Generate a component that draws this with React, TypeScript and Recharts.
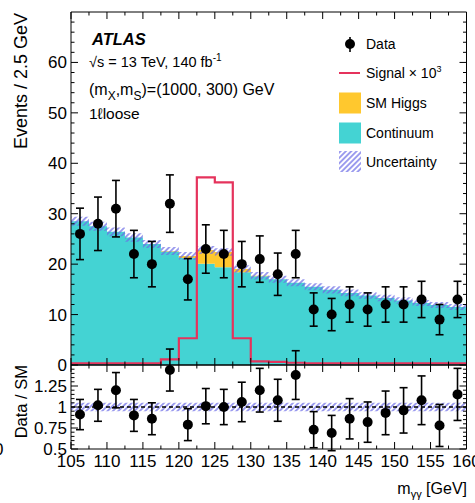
import React from "react";
import { ComposedChart, Area, Line, Scatter, ErrorBar, XAxis, YAxis, ReferenceLine } from "recharts";

const FONT = "'Liberation Sans', Arial, Helvetica, sans-serif";
const CYAN = "#44d3d3";
const YELLOW = "#ffc82e";
const RED = "#e5335c";
const HATCH = "#6c6ce6";

// 2.5 GeV bins from 105 to 160
const binEdges = [105, 107.5, 110, 112.5, 115, 117.5, 120, 122.5, 125, 127.5, 130, 132.5, 135, 137.5, 140, 142.5, 145, 147.5, 150, 152.5, 155, 157.5, 160];
const binCenters = [106.25, 108.75, 111.25, 113.75, 116.25, 118.75, 121.25, 123.75, 126.25, 128.75, 131.25, 133.75, 136.25, 138.75, 141.25, 143.75, 146.25, 148.75, 151.25, 153.75, 156.25, 158.75];

const dataCounts = [26, 28, 31, 22, 20, 32, 17, 23, 22, 20, 21, 18, 22, 11, 10, 12, 11, 12, 12, 13, 9, 13];
const dataErrors = [5.1, 5.3, 5.6, 4.7, 4.5, 5.7, 4.1, 4.8, 4.7, 4.5, 4.6, 4.2, 4.7, 3.3, 3.2, 3.5, 3.3, 3.5, 3.5, 3.6, 3.0, 3.6];
const continuum = [28.5, 27.5, 26.4, 25.3, 24.0, 22.5, 21.2, 20.1, 19.4, 18.4, 17.6, 17.0, 16.3, 15.5, 14.9, 14.3, 13.8, 13.3, 12.8, 12.3, 11.9, 11.5];
const smHiggs = [0, 0, 0, 0, 0, 0.1, 0.4, 2.7, 3.0, 0.65, 0.1, 0, 0, 0, 0, 0, 0, 0, 0, 0, 0, 0];
const signalX1000 = [0.35, 0.35, 0.35, 0.35, 0.35, 1.1, 5.3, 37.2, 36.2, 5.3, 0.7, 0.6, 0.45, 0.35, 0.35, 0.35, 0.35, 0.35, 0.35, 0.35, 0.35, 0.35];
const bkgUnc = [0.9, 0.9, 0.85, 0.85, 0.8, 0.8, 0.8, 0.8, 0.75, 0.75, 0.75, 0.7, 0.7, 0.7, 0.7, 0.65, 0.65, 0.65, 0.65, 0.6, 0.6, 0.6];

const ratioValues = [0.91, 1.02, 1.2, 0.9, 0.86, 1.44, 0.79, 1.01, 1.0, 1.06, 1.2, 1.08, 1.38, 0.73, 0.69, 0.86, 0.82, 0.93, 0.96, 1.08, 0.78, 1.15];
const ratioErrors = [0.18, 0.19, 0.21, 0.19, 0.19, 0.25, 0.19, 0.21, 0.21, 0.235, 0.26, 0.25, 0.29, 0.215, 0.21, 0.24, 0.24, 0.26, 0.27, 0.29, 0.25, 0.31];
const ratioUnc = [0.05, 0.05, 0.05, 0.05, 0.05, 0.05, 0.05, 0.05, 0.05, 0.05, 0.05, 0.05, 0.05, 0.05, 0.05, 0.05, 0.05, 0.05, 0.05, 0.05, 0.05, 0.05];

const xTicks = [105, 107.5, 110, 112.5, 115, 117.5, 120, 122.5, 125, 127.5, 130, 132.5, 135, 137.5, 140, 142.5, 145, 147.5, 150, 152.5, 155, 157.5, 160];
const xMajor = [105, 110, 115, 120, 125, 130, 135, 140, 145, 150, 155, 160];
const mainYTicks = [0, 2, 4, 6, 8, 10, 12, 14, 16, 18, 20, 22, 24, 26, 28, 30, 32, 34, 36, 38, 40, 42, 44, 46, 48, 50, 52, 54, 56, 58, 60, 62, 64, 66, 68];
const mainYMajor = [0, 10, 20, 30, 40, 50, 60];
const ratioYTicks = [0.5, 0.55, 0.6, 0.65, 0.7, 0.75, 0.8, 0.85, 0.9, 0.95, 1, 1.05, 1.1, 1.15, 1.2, 1.25, 1.3, 1.35, 1.4, 1.45];
const ratioYMajor = [0.5, 0.75, 1, 1.25];

const histRows = binEdges.map((x, i) => {
  const k = Math.min(i, continuum.length - 1);
  const tot = continuum[k] + smHiggs[k];
  return { x, cont: continuum[k], higgs: smHiggs[k], sig: signalX1000[k], band: [tot - bkgUnc[k], tot + bkgUnc[k]] };
});
const dataPoints = binCenters.map((x, i) => ({ x, y: dataCounts[i], e: dataErrors[i] }));

const ratioRows = binEdges.map((x, i) => {
  const k = Math.min(i, ratioUnc.length - 1);
  return { x, band: [1 - ratioUnc[k], 1 + ratioUnc[k]] };
});
const ratioPoints = binCenters.map((x, i) => ({ x, y: ratioValues[i], e: ratioErrors[i] }));

const isIn = (v: number, list: number[]) => list.some(l => Math.abs(l - v) < 1e-6);

function tickFactory(side: "left" | "right" | "top" | "bottom", majors: number[], labels: boolean) {
  return (props: any) => {
    const { x, y, payload } = props;
    const v = payload.value;
    const major = isIn(v, majors);
    const len = major ? 7 : 3.5;
    let l = { x1: x, x2: x, y1: y, y2: y };
    if (side === "left") l = { x1: x, x2: x + len, y1: y, y2: y };
    if (side === "right") l = { x1: x, x2: x - len, y1: y, y2: y };
    if (side === "top") l = { x1: x, x2: x, y1: y, y2: y + len };
    if (side === "bottom") l = { x1: x, x2: x, y1: y, y2: y - len };
    const txt = String(Math.round(v * 100) / 100);
    return (
      <g>
        <line {...l} stroke="#000" strokeWidth={1} />
        {labels && major && side === "left" && (
          <text x={x - 4} y={y + 6} textAnchor="end" fontSize={17} fontFamily={FONT} fill="#000">{txt}</text>
        )}
        {labels && major && side === "bottom" && (
          <text x={x} y={y + 18} textAnchor="middle" fontSize={17} fontFamily={FONT} fill="#000">{txt}</text>
        )}
      </g>
    );
  };
}

function Hatch({ id }: { id: string }) {
  return (
    <defs>
      <pattern id={id} patternUnits="userSpaceOnUse" width={3.8} height={3.8} patternTransform="rotate(45)">
        <line x1={1.9} y1={0} x2={1.9} y2={3.8} stroke={HATCH} strokeWidth={1.3} />
      </pattern>
    </defs>
  );
}

const dot = (p: any) => <circle cx={p.cx} cy={p.cy} r={5} fill="#000" />;

function MainPanel() {
  return (
    <ComposedChart width={475} height={503} data={histRows} margin={{ top: 0, right: 0, bottom: 0, left: 0 }}>
      <Hatch id="hatchMain" />
      <XAxis xAxisId="b" dataKey="x" type="number" domain={[105, 160]} ticks={xTicks} interval={0} allowDataOverflow
        height={138} tickSize={0} tickMargin={0} axisLine={{ stroke: "#000" }} tickLine={false} tick={tickFactory("bottom", xMajor, false)} />
      <XAxis xAxisId="t" orientation="top" dataKey="x" type="number" domain={[105, 160]} ticks={xTicks} interval={0} allowDataOverflow
        height={12} tickSize={0} tickMargin={0} axisLine={{ stroke: "#000" }} tickLine={false} tick={tickFactory("top", xMajor, false)} />
      <YAxis yAxisId="l" type="number" domain={[0, 70]} ticks={mainYTicks} interval={0} allowDataOverflow width={71}
        tickSize={0} tickMargin={0} axisLine={{ stroke: "#000" }} tickLine={false} tick={tickFactory("left", mainYMajor, true)} />
      <YAxis yAxisId="r" orientation="right" type="number" domain={[0, 70]} ticks={mainYTicks} interval={0} allowDataOverflow width={8.5}
        tickSize={0} tickMargin={0} axisLine={{ stroke: "#000" }} tickLine={false} tick={tickFactory("right", mainYMajor, false)} />
      <Area xAxisId="b" yAxisId="l" type="stepAfter" dataKey="cont" stackId="bkg" fill={CYAN} fillOpacity={1} stroke="none" isAnimationActive={false} />
      <Area xAxisId="b" yAxisId="l" type="stepAfter" dataKey="higgs" stackId="bkg" fill={YELLOW} fillOpacity={1} stroke="none" isAnimationActive={false} />
      <Area xAxisId="b" yAxisId="l" type="stepAfter" dataKey="band" fill="url(#hatchMain)" fillOpacity={1} stroke="none" isAnimationActive={false} />
      <Line xAxisId="b" yAxisId="l" type="stepAfter" dataKey="sig" stroke={RED} strokeWidth={2.2} dot={false} isAnimationActive={false} />
      <Scatter xAxisId="b" yAxisId="l" data={dataPoints} dataKey="y" shape={dot} isAnimationActive={false}>
        <ErrorBar dataKey="e" direction="y" width={4} stroke="#000" strokeWidth={1.6} isAnimationActive={false} />
      </Scatter>
    </ComposedChart>
  );
}

function RatioPanel() {
  return (
    <ComposedChart width={475} height={503} data={ratioRows} margin={{ top: 0, right: 0, bottom: 0, left: 0 }}>
      <Hatch id="hatchRatio" />
      <XAxis xAxisId="b" dataKey="x" type="number" domain={[105, 160]} ticks={xTicks} interval={0} allowDataOverflow
        height={54} tickSize={0} tickMargin={0} axisLine={{ stroke: "#000" }} tickLine={false} tick={tickFactory("bottom", xMajor, true)} />
      <XAxis xAxisId="t" orientation="top" dataKey="x" type="number" domain={[105, 160]} ticks={xTicks} interval={0} allowDataOverflow
        height={365} tickSize={0} tickMargin={0} axisLine={{ stroke: "#000" }} tickLine={false} tick={tickFactory("top", xMajor, false)} />
      <YAxis yAxisId="l" type="number" domain={[0.5, 1.5]} ticks={ratioYTicks} interval={0} allowDataOverflow width={71}
        tickSize={0} tickMargin={0} axisLine={{ stroke: "#000" }} tickLine={false} tick={tickFactory("left", ratioYMajor, true)} />
      <YAxis yAxisId="r" orientation="right" type="number" domain={[0.5, 1.5]} ticks={ratioYTicks} interval={0} allowDataOverflow width={8.5}
        tickSize={0} tickMargin={0} axisLine={{ stroke: "#000" }} tickLine={false} tick={tickFactory("right", ratioYMajor, false)} />
      <Area xAxisId="b" yAxisId="l" type="stepAfter" dataKey="band" fill="url(#hatchRatio)" fillOpacity={1} stroke="none" isAnimationActive={false} />
      <ReferenceLine xAxisId="b" yAxisId="l" y={1} stroke="#000" strokeWidth={1.5} strokeDasharray="4 3" />
      <Scatter xAxisId="b" yAxisId="l" data={ratioPoints} dataKey="y" shape={dot} isAnimationActive={false}>
        <ErrorBar dataKey="e" direction="y" width={4} stroke="#000" strokeWidth={1.6} isAnimationActive={false} />
      </Scatter>
    </ComposedChart>
  );
}

function Overlay() {
  const lx = 339;
  return (
    <svg width={475} height={503} style={{ position: "absolute", left: 0, top: 0, pointerEvents: "none" }} fontFamily={FONT}>
      <text x={92} y={45} fontSize={16.5} fontWeight="bold" fontStyle="italic">ATLAS</text>
      <text x={89} y={67} fontSize={14.5}>√s = 13 TeV, 140 fb<tspan dy={-6} fontSize={10}>-1</tspan></text>
      <text x={89} y={95} fontSize={16}>
        (m<tspan dy={5} fontSize={12}>X</tspan><tspan dy={-5}>,m</tspan><tspan dy={5} fontSize={12}>S</tspan><tspan dy={-5}>)=(1000, 300) GeV</tspan>
      </text>
      <text x={89} y={119} fontSize={15.5}>1ℓloose</text>

      <line x1={lx + 11} x2={lx + 11} y1={37} y2={52} stroke="#000" strokeWidth={1.6} />
      <circle cx={lx + 11} cy={44} r={5} fill="#000" />
      <text x={366} y={49} fontSize={14}>Data</text>
      <line x1={lx} x2={lx + 21} y1={73} y2={73} stroke={RED} strokeWidth={2} />
      <text x={366} y={78} fontSize={14}>Signal × 10<tspan dy={-6} fontSize={9}>3</tspan></text>
      <rect x={lx} y={92.5} width={22} height={21} fill={YELLOW} />
      <text x={366} y={108} fontSize={14}>SM Higgs</text>
      <rect x={lx} y={122.5} width={22} height={21} fill={CYAN} />
      <text x={366} y={138} fontSize={14}>Continuum</text>
      <rect x={lx} y={151} width={22} height={21} fill="url(#hatchMain)" />
      <text x={366} y={167} fontSize={14}>Uncertainty</text>

      <text transform="translate(27,13) rotate(-90)" textAnchor="end" fontSize={18}>Events / 2.5 GeV</text>
      <text transform="translate(27,365) rotate(-90)" textAnchor="end" fontSize={16.5}>Data / SM</text>
      <text x={467} y={494} textAnchor="end" fontSize={16}>
        m<tspan dy={4} fontSize={11}>γγ</tspan><tspan dy={-4}> [GeV]</tspan>
      </text>
      <text x={-6} y={455} fontSize={17}>0</text>
    </svg>
  );
}

export default function App() {
  return (
    <div style={{ position: "absolute", left: 0, top: 0, width: 475, height: 503, background: "#fff", overflow: "hidden" }}>
      <div style={{ position: "absolute", left: 0, top: 0 }}>
        <MainPanel />
      </div>
      <div style={{ position: "absolute", left: 0, top: 0 }}>
        <RatioPanel />
      </div>
      <Overlay />
    </div>
  );
}
